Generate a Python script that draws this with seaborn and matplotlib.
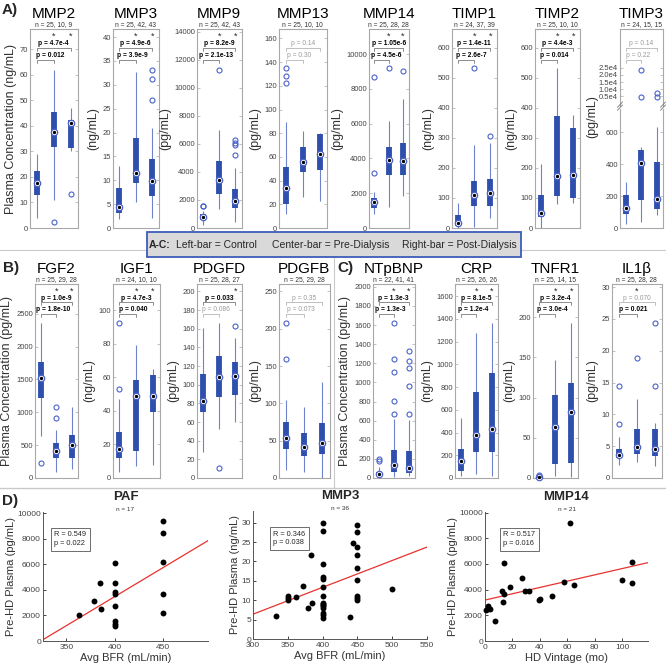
"""
Plasma biomarker panels (A-C) and pre-HD correlations (D).
Box summaries are drawn from read-off five-number stats.
"""

import numpy as np
import pandas as pd
import matplotlib
matplotlib.use('Agg')
import matplotlib.pyplot as plt
import matplotlib.transforms as mtransforms
from matplotlib.lines import Line2D
from matplotlib.patches import Rectangle
import seaborn as sns

sns.set_theme(style='white')
plt.rcParams['font.family'] = ['Liberation Sans', 'DejaVu Sans']

W, H = 669, 666

# box stats per group: [whisker low, q1, median, q3, whisker high]
# group order: Control, Pre-Dialysis, Post-Dialysis
mmp2_box = [[4, 13, 17.8, 22.5, 29], [11, 31.6, 37.5, 45.5, 62], [30, 31.3, 41, 42.5, 47]]
mmp2_out = [[], [2.2], [13.2]]
mmp3_box = [[1.8, 3.1, 4.4, 8.3, 13], [5.4, 9.5, 11.5, 18.8, 32.7], [2, 6.8, 9.9, 14.4, 20.9]]
mmp3_out = [[], [], [26.8, 31.3, 33.2]]
mmp9_box = [[200, 550, 760, 1000, 1200], [1350, 2450, 3450, 4800, 7000], [400, 1450, 1950, 2750, 4300]]
mmp9_out = [[1550, 1600], [11300], [5200, 5950, 6100, 6300]]
mmp13_box = [[11.5, 20.6, 33.5, 51.5, 89.5], [26.5, 47, 56, 68, 82], [23, 48.6, 62.5, 79, 80.5]]
mmp13_out = [[122.7, 128.7, 134.9], [], []]
mmp14_box = [[800, 1130, 1470, 1700, 2050], [1190, 3030, 3900, 4650, 6130], [1820, 3030, 3880, 4890, 7410]]
mmp14_out = [[3180, 8700], [9180], [9040]]
timp1_box = [[0, 5, 16, 44, 84], [2, 72, 111, 158, 278], [33, 72, 115, 163, 283]]
timp1_out = [[], [532], [308]]
timp2_box = [[0, 35, 50, 111, 213], [80, 107, 174, 372, 532], [84, 100, 178, 333, 378]]
timp2_out = [[], [], []]
timp3_box = [[27, 89, 124, 207, 290], [35, 176, 410, 490, 507], [83, 120, 180, 416, 631]]
timp3_out = [[], [4540, 23840], [4540, 7330]]

fgf2_box = [[640, 1225, 1530, 1770, 2355], [92, 311, 418, 536, 731], [143, 306, 500, 658, 1074]]
fgf2_out = [[235], [910, 1074], []]
igf1_box = [[3.4, 11.7, 17.4, 27.5, 47], [6.9, 16, 48.7, 58.6, 79.2], [7.5, 39, 48.7, 61.4, 65.1]]
igf1_out = [[53.1, 92.2], [], []]
pdgfd_box = [[28, 70.3, 82.5, 112, 161], [53, 86.4, 108.6, 131, 166], [60, 89, 109.7, 124, 150]]
pdgfd_out = [[], [10.8], [163.4]]
pdgfb_box = [[10.4, 39.5, 53, 75.3, 104.5], [8, 29.6, 42, 60.5, 95.5], [0, 32.8, 46.7, 74, 129]]
pdgfb_out = [[159.7, 207.7], [], []]

ntpbnp_box = [[10, 25, 46, 65, 110], [15, 63, 133, 288, 615], [20, 56, 109, 283, 603]]
ntpbnp_out = [[175, 195], [674, 806, 1110, 1240, 1617], [667, 963, 1146, 1222, 1327]]
crp_box = [[15, 62, 147, 259, 524], [32, 229, 377, 759, 1274], [15, 229, 432, 921, 1363]]
crp_out = [[], [], []]
tnfr1_box = [[0, 0.3, 1, 2, 3], [2, 17.9, 63.5, 103, 147], [1, 19, 81.8, 117.5, 193]]
tnfr1_out = [[3.5], [], []]
il1b_box = [[2.1, 3.2, 3.55, 4.55, 6.5], [2.45, 3.8, 4.9, 7.7, 12.4], [1.9, 3.4, 4.55, 7.7, 8.7]]
il1b_out = [[8.5, 14.5], [18.9], [14.5, 24.3]]

# panel D scatter data
paf_bfr = [362.8, 378.6, 384.5, 385.5, 400, 400, 400, 400, 400, 400, 400, 400,
           450, 450, 450, 450, 450]
paf_plasma = [2040, 3170, 4560, 2540, 6070, 4580, 3800, 3660, 2720, 1550, 1350, 1180,
              9420, 8480, 6200, 3670, 2170]
paf_fit = (45.6, -14760)  # slope, intercept

mmp3_bfr = [333, 350, 350, 350, 362, 372, 379, 385, 384,
            400, 400, 400, 400, 400, 400, 400, 400, 400, 400, 400, 400, 400, 400, 400,
            439, 443, 450, 450, 450, 450, 450, 450, 450, 450, 450, 500]
mmp3_plasma = [5.9, 11.1, 10.5, 10.0, 10.7, 13.6, 7.9, 9.4, 21.6,
               30.0, 27.9, 19.4, 15.9, 15.5, 13.4, 11.1, 9.4, 9.0, 8.7, 8.4, 8.1, 6.6, 6.1, 5.3,
               5.6, 24.7, 29.3, 27.5, 23.6, 21.7, 18.2, 15.3, 11.1, 10.6, 10.1, 13.0]
mmp3_fit = (0.0692, -14.36)

mmp14_vintage = [1.0, 2.0, 3.5, 7.0, 12.3, 13.0, 14.0, 14.2, 18.2, 27.1, 29.0,
                 32.2, 39.2, 40.4, 48.9, 57.6, 61.7, 65.1, 99.8, 107.5, 107.5]
mmp14_plasma = [2450, 2750, 2500, 1550, 3880, 3000, 3650, 6100, 4180, 4870, 3880,
                3880, 3210, 3290, 3470, 4590, 9180, 4390, 4720, 6150, 4520]
mmp14_fit = (24.5, 3190)

BOX_C = '#2f4fae'
WHISK_C = '#6d84cd'
OUT_C = '#4a62c9'
SPINE_C = '#a8a8a8'


def rect(l, t, r, b):
    return [l / W, 1 - b / H, (r - l) / W, (b - t) / H]


def style_box_axes(ax, ylim, ticks, labels=None):
    ax.set_ylim(*ylim)
    ax.set_xlim(0.62, 3.42)
    ax.set_xticks([])
    ax.set_yticks(ticks)
    if labels is not None:
        ax.set_yticklabels(labels)
    ax.tick_params(axis='y', direction='in', length=2.5, width=0.5, color=SPINE_C,
                   labelsize=5.5, labelcolor='#444444', pad=1.5, right=True, left=True)
    for s in ax.spines.values():
        s.set_color(SPINE_C)
        s.set_linewidth(0.8)
    ax.grid(False)


def draw_boxes(ax, box, out):
    for i, (lo, q1, med, q3, hi) in enumerate(box):
        x = i + 1
        ax.vlines(x, lo, hi, color=WHISK_C, lw=0.8, zorder=2)
        ax.vlines(x, q1, q3, color=BOX_C, lw=4.2, zorder=3)
        ax.plot(x, med, 'o', mfc='white', mec=OUT_C, ms=4.6, mew=0.9, zorder=4, clip_on=False)
        ax.plot(x, med, 'o', color='black', ms=1.4, zorder=5, clip_on=False)
        if out[i]:
            ax.plot([x] * len(out[i]), out[i], 'o', mfc='none', mec=OUT_C, ms=3.6,
                    mew=0.8, zorder=4, clip_on=False)


def annotate_panel(fig, ax, frame, title, ntext, p_hi, p_lo, sig_hi, sig_lo, stars):
    bbox = mtransforms.Bbox.from_bounds(*frame)
    frame_tr = mtransforms.BboxTransformTo(mtransforms.TransformedBbox(bbox, fig.transFigure))
    tr = mtransforms.blended_transform_factory(ax.transData, frame_tr)
    ax.annotate(title, xy=(2, 1), xycoords=tr, xytext=(0, 10.5), textcoords='offset points',
                ha='center', va='center', fontsize=11, color='black', annotation_clip=False)
    ax.annotate(ntext, xy=(2, 1), xycoords=tr, xytext=(0, 3), textcoords='offset points',
                ha='center', va='center', fontsize=4.8, color='#333333', annotation_clip=False)
    for x in stars:
        ax.text(x, 0.962, '*', transform=tr, ha='center', va='center', fontsize=6.5)
    specs = [(p_hi, sig_hi, 3, 0.905, 0.927, 2.0), (p_lo, sig_lo, 2, 0.845, 0.869, 1.8)]
    for ptxt, sig, x2, yl, yt, xt in specs:
        lc = '#7a7a7a' if sig else '#b5b5b5'
        ax.plot([1, 1, x2, x2], [yl - 0.014, yl, yl, yl - 0.014], color=lc, lw=0.6,
                transform=tr, clip_on=False)
        ax.text(xt, yt, ptxt, transform=tr, ha='center', va='center', fontsize=4.8,
                color='black' if sig else '#9a9a9a',
                fontweight='bold' if sig else 'normal')


fig = plt.figure(figsize=(W / 100, H / 100), dpi=100)
fig.patch.set_facecolor('white')

row_a = [
    ('MMP2', mmp2_box, mmp2_out, (30, 78), (0, 78), np.arange(0, 71, 10), 'Plasma Concentration (ng/mL)',
     'n = 25, 10, 9', 'p = 4.7e-4', 'p = 0.012', True, True, [2, 3]),
    ('MMP3', mmp3_box, mmp3_out, (113, 159), (0, 41.7), np.arange(0, 41, 5), '(ng/mL)',
     'n = 25, 42, 43', 'p = 4.9e-6', 'p = 3.9e-9', True, True, [2, 3]),
    ('MMP9', mmp9_box, mmp9_out, (197, 242), (0, 14200), np.arange(0, 14001, 2000), '(pg/mL)',
     'n = 25, 42, 43', 'p = 8.2e-9', 'p = 2.1e-13', True, True, [2, 3]),
    ('MMP13', mmp13_box, mmp13_out, (279, 327), (0, 168), np.arange(0, 161, 20), '(pg/mL)',
     'n = 25, 10, 10', 'p = 0.14', 'p = 0.30', False, False, []),
    ('MMP14', mmp14_box, mmp14_out, (369, 409), (0, 11440), np.arange(0, 10001, 2000), '(pg/mL)',
     'n = 25, 28, 28', 'p = 1.05e-6', 'p = 4.5e-6', True, True, [2, 3]),
    ('TIMP1', timp1_box, timp1_out, (452, 497), (0, 663), np.arange(0, 601, 100), '(ng/mL)',
     'n = 24, 37, 39', 'p = 1.4e-11', 'p = 2.6e-7', True, True, [2, 3]),
    ('TIMP2', timp2_box, timp2_out, (535, 580), (0, 663), np.arange(0, 601, 100), '(ng/mL)',
     'n = 25, 10, 10', 'p = 4.4e-3', 'p = 0.014', True, True, [2, 3]),
]
row_bc = [
    ('FGF2', fgf2_box, fgf2_out, (35, 78), (0, 2954), np.arange(0, 2501, 500), 'Plasma Concentration (pg/mL)',
     'n = 25, 29, 28', 'p = 1.0e-9', 'p = 1.8e-10', True, True, [2, 3]),
    ('IGF1', igf1_box, igf1_out, (113, 160), (0, 115.5), np.arange(0, 101, 20), '(ng/mL)',
     'n = 24, 10, 10', 'p = 4.7e-3', 'p = 0.040', True, True, [2, 3]),
    ('PDGFD', pdgfd_box, pdgfd_out, (197, 242), (0, 208), np.arange(0, 201, 20), '(pg/mL)',
     'n = 25, 28, 27', 'p = 0.033', 'p = 0.086', True, False, [3]),
    ('PDGFB', pdgfb_box, pdgfb_out, (279, 330), (0, 260), np.arange(0, 251, 50), '(pg/mL)',
     'n = 25, 29, 28', 'p = 0.35', 'p = 0.073', False, False, []),
    ('NTpBNP', ntpbnp_box, ntpbnp_out, (373, 415), (0, 2030), np.arange(0, 2001, 200), 'Plasma Concentration (pg/mL)',
     'n = 22, 41, 41', 'p = 1.3e-3', 'p = 1.3e-3', True, True, [2, 3]),
    ('CRP', crp_box, crp_out, (455, 498), (0, 1707), np.arange(0, 1601, 200), '(ng/mL)',
     'n = 25, 26, 26', 'p = 8.1e-5', 'p = 1.2e-4', True, True, [2, 3]),
    ('TNFR1', tnfr1_box, tnfr1_out, (533, 578), (0, 241), np.arange(0, 201, 50), '(ng/mL)',
     'n = 25, 14, 15', 'p = 3.2e-4', 'p = 3.0e-4', True, True, [2, 3]),
    ('IL1β', il1b_box, il1b_out, (612, 662), (0, 30.5), np.arange(0, 31, 5), '(pg/mL)',
     'n = 25, 28, 28', 'p = 0.070', 'p = 0.021', False, True, [2]),
]

for panels, top, bottom in [(row_a, 29, 228), (row_bc, 284, 478)]:
    for (title, box, out, (l, r), ylim, ticks, ylab, ntext, phi, plo, shi, slo, stars) in panels:
        ax = fig.add_axes(rect(l, top, r, bottom))
        style_box_axes(ax, ylim, ticks)
        draw_boxes(ax, box, out)
        ax.set_ylabel(ylab, fontsize=9, color='#333333', labelpad=2)
        annotate_panel(fig, ax, rect(l, top, r, bottom), title, ntext, phi, plo, shi, slo, stars)

# TIMP3 with a broken axis
l, r, top, bottom, brk = 620, 663, 29, 228, 107
ax_hi = fig.add_axes(rect(l, top, r, brk - 1.5))
ax_lo = fig.add_axes(rect(l, brk + 1.5, r, bottom))
style_box_axes(ax_lo, (0, 750), [0, 200, 400, 600])
style_box_axes(ax_hi, (-1700, 52700), [5000, 10000, 15000, 20000, 25000],
               ['0.5e4', '1.0e4', '1.5e4', '2.0e4', '2.5e4'])
ax_lo.spines['top'].set_visible(False)
ax_hi.spines['bottom'].set_visible(False)
draw_boxes(ax_lo, timp3_box, [[], [], []])
for i, vals in enumerate(timp3_out):
    if vals:
        ax_hi.plot([i + 1] * len(vals), vals, 'o', mfc='none', mec=OUT_C, ms=3.6, mew=0.8)
ax_lo.set_ylabel('(pg/mL)', fontsize=9, color='#333333', labelpad=2)
ax_lo.yaxis.set_label_coords(-0.5, 0.93)
for xa in (0, 1):
    for dy in (0.0, 0.025):
        ax_lo.plot([xa - 0.06, xa + 0.06], [0.985 + dy, 1.03 + dy], color='#777777', lw=0.6,
                   transform=ax_lo.transAxes, clip_on=False)
annotate_panel(fig, ax_hi, rect(l, top, r, bottom), 'TIMP3', 'n = 24, 15, 15',
               'p = 0.14', 'p = 0.22', False, False, [])

# panel D scatter plots
scatter_specs = [
    ('PAF', paf_bfr, paf_plasma, paf_fit, (43, 512, 208, 641), (326, 496), [350, 400, 450],
     (0, 10100), np.arange(0, 10001, 2000), 'Avg BFR (mL/min)', 'Pre-HD Plasma (pg/mL)',
     'n = 17', 'R = 0.549\np = 0.022', (0.165, 0.79)),
    ('MMP3', mmp3_bfr, mmp3_plasma, mmp3_fit, (253, 511, 427, 639), (300, 550), np.arange(300, 551, 50),
     (0, 33), np.arange(0, 31, 5), 'Avg BFR (mL/min)', 'Pre-HD Plasma (ng/mL)',
     'n = 36', 'R = 0.346\np = 0.038', (0.21, 0.785)),
    ('MMP14', mmp14_vintage, mmp14_plasma, mmp14_fit, (485, 512, 648, 641), (0, 119), np.arange(0, 101, 20),
     (0, 10050), np.arange(0, 10001, 2000), 'HD Vintage (mo)', 'Pre-HD Plasma (pg/mL)',
     'n = 21', 'R = 0.517\np = 0.016', (0.21, 0.79)),
]
for (title, xs, ys, fit, (l, t, r, b), xlim, xt, ylim, yt, xlab, ylab, ntext, rtxt, rpos) in scatter_specs:
    ax = fig.add_axes(rect(l, t, r, b))
    df = pd.DataFrame({'x': xs, 'y': ys})
    sns.scatterplot(data=df, x='x', y='y', color='black', edgecolor='black', s=18,
                    linewidth=0, ax=ax, zorder=3, clip_on=False)
    line_x = np.array(xlim, dtype=float)
    fit_df = pd.DataFrame({'x': line_x, 'y': fit[0] * line_x + fit[1]})
    sns.lineplot(data=fit_df, x='x', y='y', color='#e8322e', lw=0.9, ax=ax, zorder=2)
    ax.set_xlim(*xlim)
    ax.set_ylim(*ylim)
    ax.set_xticks(xt)
    ax.set_yticks(yt)
    ax.set_xlabel(xlab, fontsize=8, color='#333333', labelpad=1)
    ax.set_ylabel(ylab, fontsize=8, color='#333333', labelpad=1)
    ax.tick_params(direction='in', length=2.5, width=0.6, labelsize=6, labelcolor='#444444',
                   pad=1.5, left=True, bottom=True)
    ax.tick_params(axis='x', pad=2.5)
    sns.despine(ax=ax)
    for s in ('left', 'bottom'):
        ax.spines[s].set_color('#555555')
        ax.spines[s].set_linewidth(0.7)
    ax.set_title(title, fontsize=9.5, fontweight='bold', pad=8.5)
    ax.text(0.5, 1.0, ntext, transform=ax.transAxes, ha='center', va='bottom', fontsize=4.6,
            color='#333333')
    ax.text(rpos[0], rpos[1], rtxt, transform=ax.transAxes, ha='center', va='center',
            fontsize=5.3, multialignment='left', linespacing=1.3,
            bbox=dict(boxstyle='square,pad=0.5', fc='white', ec='#555555', lw=0.6))

# separators
fig.add_artist(Line2D([0, 665 / W], [1 - 249.5 / H] * 2, color='#c9c9c9', lw=0.8))
fig.add_artist(Line2D([0, 665 / W], [1 - 488 / H] * 2, color='#c9c9c9', lw=1.0))
fig.add_artist(Line2D([333.5 / W] * 2, [1 - 257 / H, 1 - 488 / H], color='#c9c9c9', lw=0.8))

# group legend box
fig.add_artist(Rectangle((147 / W, 1 - 257 / H), 374 / W, 25 / H, transform=fig.transFigure,
                         fc='#d9d9d9', ec='#3d5cb8', lw=1.3, zorder=5))
ly = 1 - 245 / H
fig.text(149 / W, ly, 'A-C:', fontsize=7.5, fontweight='bold', va='center', zorder=6)
fig.text(176 / W, ly, 'Left-bar = Control', fontsize=7.5, va='center', zorder=6)
fig.text(272.5 / W, ly, 'Center-bar = Pre-Dialysis', fontsize=7.5, va='center', zorder=6)
fig.text(402.5 / W, ly, 'Right-bar = Post-Dialysis', fontsize=7.5, va='center', zorder=6)

# panel letters
for letter, x, y in [('A)', 2, 10), ('B)', 3, 268), ('C)', 337, 268), ('D)', 2, 501)]:
    fig.text(x / W, 1 - y / H, letter, fontsize=11, fontweight='bold', va='center')

fig.savefig('out.png', dpi=100)
